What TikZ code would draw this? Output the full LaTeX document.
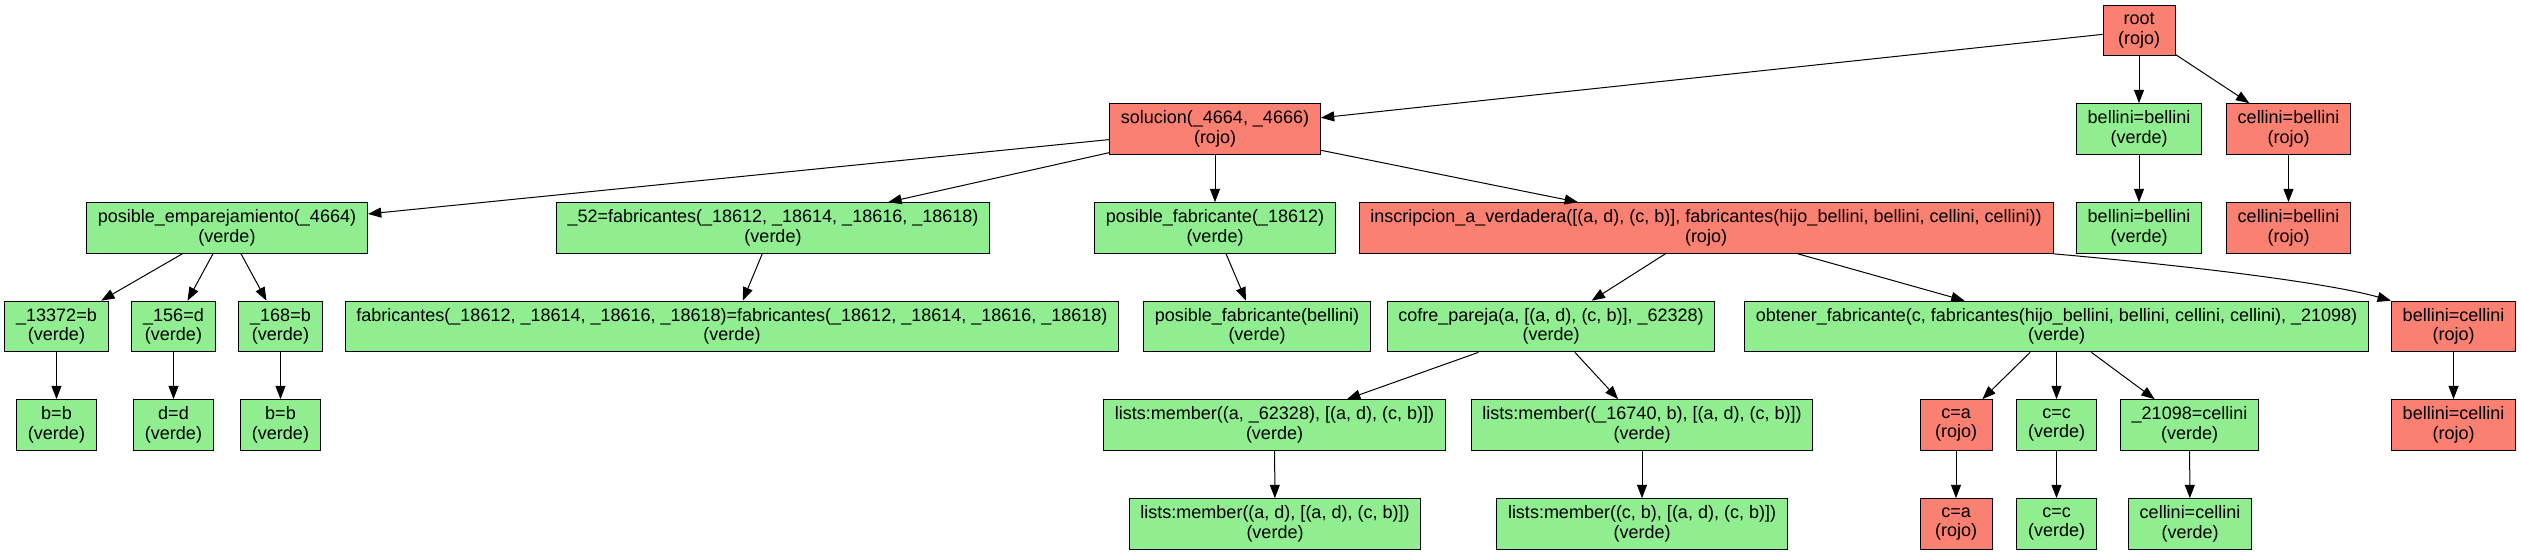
\documentclass[tikz,border=0pt]{standalone}
\usepackage{fontspec}
\setmainfont{Liberation Sans}
\usetikzlibrary{arrows.meta}
\definecolor{verde}{HTML}{90EE90}
\definecolor{rojo}{HTML}{FA8072}
\begin{document}
\begin{tikzpicture}[x=0.75pt,y=-0.75pt,
  box/.style={draw=black, line width=0.75pt, rectangle, align=center,
    minimum height=38pt, minimum width=54pt, inner xsep=8.5pt, inner ysep=2pt,
    font=\fontsize{13.5}{14.5}\selectfont},
  gbox/.style={box, fill=verde},
  rbox/.style={box, fill=rojo},
  conn/.style={draw=black, line width=0.75pt, -{Triangle[length=10pt,width=7.5pt]}}]
\useasboundingbox (0,0) rectangle (2521,555);
% rank 1
\node[rbox] (root) at (2139,30.5) {root\\(rojo)};
% rank 2
\node[rbox] (sol) at (1215,129) {solucion(\_4664, \_4666)\\(rojo)};
\node[gbox] (bb2) at (2139,129) {bellini=bellini\\(verde)};
\node[rbox] (cb2) at (2288.5,129) {cellini=bellini\\(rojo)};
% rank 3
\node[gbox] (pe) at (227,228) {posible\_emparejamiento(\_4664)\\(verde)};
\node[gbox] (f52) at (773,228) {\_52=fabricantes(\_18612, \_18614, \_18616, \_18618)\\(verde)};
\node[gbox] (pf) at (1215,228) {posible\_fabricante(\_18612)\\(verde)};
\node[rbox] (ins) at (1706,228) {inscripcion\_a\_verdadera([(a, d), (c, b)], fabricantes(hijo\_bellini, bellini, cellini, cellini))\\(rojo)};
\node[gbox] (bb3) at (2139,228) {bellini=bellini\\(verde)};
\node[rbox] (cb3) at (2288.5,228) {cellini=bellini\\(rojo)};
% rank 4
\node[gbox] (n13372) at (56.5,326.5) {\_13372=b\\(verde)};
\node[gbox] (n156) at (173.5,326.5) {\_156=d\\(verde)};
\node[gbox] (n168) at (280.5,326.5) {\_168=b\\(verde)};
\node[gbox] (ff) at (732,326.5) {fabricantes(\_18612, \_18614, \_18616, \_18618)=fabricantes(\_18612, \_18614, \_18616, \_18618)\\(verde)};
\node[gbox] (pfb) at (1257,326.5) {posible\_fabricante(bellini)\\(verde)};
\node[gbox] (cp) at (1551,326.5) {cofre\_pareja(a, [(a, d), (c, b)], \_62328)\\(verde)};
\node[gbox] (of) at (2056.5,326.5) {obtener\_fabricante(c, fabricantes(hijo\_bellini, bellini, cellini, cellini), \_21098)\\(verde)};
\node[rbox] (bc4) at (2453.5,326.5) {bellini=cellini\\(rojo)};
% rank 5
\node[gbox] (bb5a) at (56.5,425) {b=b\\(verde)};
\node[gbox] (dd5) at (173.5,425) {d=d\\(verde)};
\node[gbox] (bb5b) at (280.5,425) {b=b\\(verde)};
\node[gbox] (lm1) at (1274.5,425) {lists:member((a, \_62328), [(a, d), (c, b)])\\(verde)};
\node[gbox] (lm2) at (1642,425) {lists:member((\_16740, b), [(a, d), (c, b)])\\(verde)};
\node[rbox] (ca5) at (1956,425) {c=a\\(rojo)};
\node[gbox] (cc5) at (2056.5,425) {c=c\\(verde)};
\node[gbox] (n21098) at (2189.5,425) {\_21098=cellini\\(verde)};
\node[rbox] (bc5) at (2453.5,425) {bellini=cellini\\(rojo)};
% rank 6
\node[gbox] (lm3) at (1275,524) {lists:member((a, d), [(a, d), (c, b)])\\(verde)};
\node[gbox] (lm4) at (1642,524) {lists:member((c, b), [(a, d), (c, b)])\\(verde)};
\node[rbox] (ca6) at (1956,524) {c=a\\(rojo)};
\node[gbox] (cc6) at (2056.5,524) {c=c\\(verde)};
\node[gbox] (cc6b) at (2190,524) {cellini=cellini\\(verde)};
% edges
\draw[conn] (root) -- (sol);
\draw[conn] (root) -- (bb2);
\draw[conn] (root) -- (cb2);
\draw[conn] (sol) -- (pe);
\draw[conn] (sol) -- (f52);
\draw[conn] (sol) -- (pf);
\draw[conn] (sol) -- (ins);
\draw[conn] (bb2) -- (bb3);
\draw[conn] (cb2) -- (cb3);
\draw[conn] (pe) -- (n13372);
\draw[conn] (pe) -- (n156);
\draw[conn] (pe) -- (n168);
\draw[conn] (f52) -- (ff);
\draw[conn] (pf) -- (pfb);
\draw[conn] (ins) -- (cp);
\draw[conn] (ins) -- (of);
\draw[conn] (ins.south east) .. controls (2180,265) and (2325,282) .. (bc4.north west);
\draw[conn] (n13372) -- (bb5a);
\draw[conn] (n156) -- (dd5);
\draw[conn] (n168) -- (bb5b);
\draw[conn] (cp) -- (lm1);
\draw[conn] (cp) -- (lm2);
\draw[conn] (of) -- (ca5);
\draw[conn] (of) -- (cc5);
\draw[conn] (of) -- (n21098);
\draw[conn] (bc4) -- (bc5);
\draw[conn] (lm1) -- (lm3);
\draw[conn] (lm2) -- (lm4);
\draw[conn] (ca5) -- (ca6);
\draw[conn] (cc5) -- (cc6);
\draw[conn] (n21098) -- (cc6b);
\end{tikzpicture}
\end{document}
